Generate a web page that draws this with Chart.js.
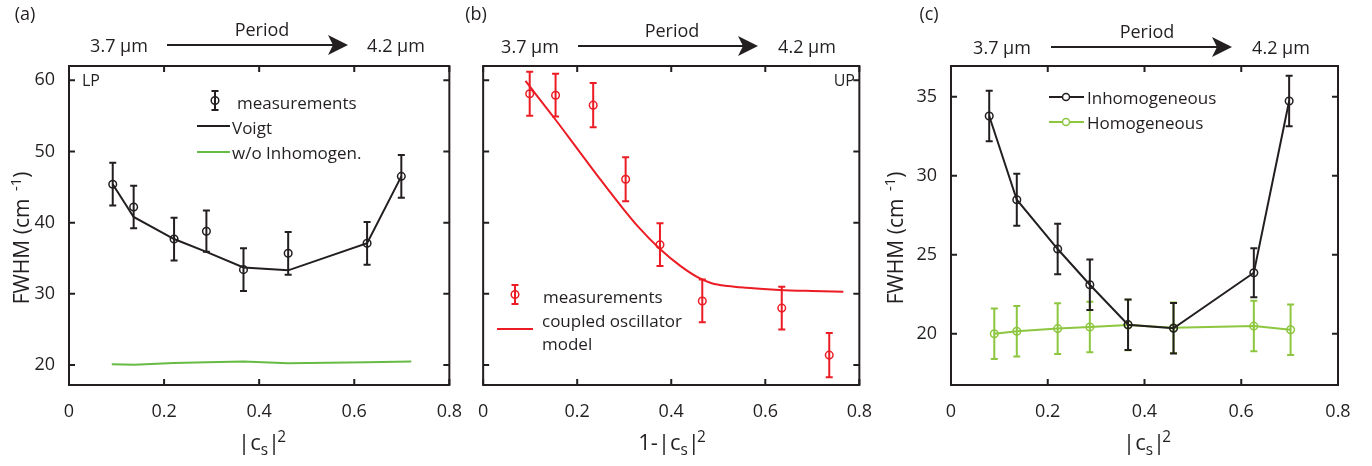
<!DOCTYPE html>
<html>
<head>
<meta charset="UTF-8">
<title>FWHM vs Hopfield coefficient</title>
<script src="https://cdn.jsdelivr.net/npm/chart.js"></script>
<style>
    body { margin: 0; background: #fff; }
    #fig { position: relative; width: 1372px; height: 466px; font-family: 'Open Sans', sans-serif; color: #231f20; overflow: hidden; }
    #fig canvas { position: absolute; top: 0; }
    .t { position: absolute; white-space: nowrap; line-height: 1; }
    .t sup, .t sub { font-size: 0.7em; line-height: 0; }
    .t.xt sup { margin-left: -3px; }
    svg { position: absolute; left: 0; top: 0; }
</style>
</head>
<body>
<div id="fig">
    <canvas id="chartA" width="470" height="466" style="left:0px"></canvas>
    <canvas id="chartB" width="410" height="466" style="left:470px"></canvas>
    <canvas id="chartC" width="492" height="466" style="left:880px"></canvas>
    <svg width="1372" height="466">
        <!-- period arrows -->
        <g stroke="#231f20" stroke-width="2">
            <line x1="167" y1="45" x2="334" y2="45" />
            <line x1="578" y1="46" x2="744" y2="46" />
            <line x1="1051" y1="47" x2="1218" y2="47" />
        </g>
        <g fill="#231f20">
            <polygon points="328,35 348,45 328,55 333,45" />
            <polygon points="738,36 758,46 738,56 743,46" />
            <polygon points="1212,37 1232,47 1212,57 1217,47" />
        </g>
        <!-- legend (a) -->
        <g stroke="#231f20" stroke-width="2" fill="none">
            <line x1="215" y1="91" x2="215" y2="110" />
            <line x1="211.5" y1="91" x2="218.5" y2="91" />
            <line x1="211.5" y1="110" x2="218.5" y2="110" />
            <circle cx="215" cy="100.5" r="3.8" stroke-width="1.5" />
            <line x1="197" y1="126" x2="230" y2="126" />
        </g>
        <line x1="197" y1="152" x2="230" y2="152" stroke="#66bb44" stroke-width="2" />
        <!-- legend (b) -->
        <g stroke="#ec1c24" stroke-width="2" fill="none">
            <line x1="515" y1="285" x2="515" y2="304" />
            <line x1="511.5" y1="285" x2="518.5" y2="285" />
            <line x1="511.5" y1="304" x2="518.5" y2="304" />
            <circle cx="515" cy="294.5" r="3.8" stroke-width="1.5" />
            <line x1="497" y1="329" x2="533" y2="329" />
        </g>
        <!-- legend (c) -->
        <g stroke="#231f20" stroke-width="2" fill="none">
            <line x1="1049" y1="97" x2="1084" y2="97" />
            <circle cx="1066" cy="97" r="3.5" stroke-width="1.5" fill="#fff" />
        </g>
        <g stroke="#8dc63f" stroke-width="2" fill="none">
            <line x1="1049" y1="122" x2="1084" y2="122" />
            <circle cx="1066" cy="122" r="3.5" stroke-width="1.5" fill="#fff" />
        </g>
    </svg>
</div>

<script>
    // axis ticks
    const xTicks = [0, 0.2, 0.4, 0.6, 0.8];
    const yTicksAB = [20, 30, 40, 50, 60];
    const yTicksC = [20, 25, 30, 35];

    // (a) LP, x = |c_s|^2
    const xA = [0.092, 0.136, 0.221, 0.289, 0.367, 0.461, 0.627, 0.699];
    const measA = [45.4, 42.2, 37.7, 38.8, 33.4, 35.7, 37.1, 46.5];
    const errA = [3.0, 3.0, 3.0, 2.9, 3.0, 3.0, 3.0, 3.0];
    const voigtA = [45.4, 40.8, 37.7, 35.9, 33.7, 33.3, 37.1, 46.5];
    const xHomA = [0.09, 0.137, 0.22, 0.29, 0.367, 0.461, 0.627, 0.72];
    const homA = [20.1, 20.05, 20.3, 20.4, 20.5, 20.25, 20.4, 20.5];

    // (b) UP, x = 1-|c_s|^2
    const xB = [0.099, 0.154, 0.234, 0.303, 0.376, 0.466, 0.635, 0.736];
    const measB = [58.1, 57.9, 56.5, 46.1, 36.9, 29.0, 28.0, 21.4];
    const errB = [3.1, 3.0, 3.1, 3.1, 3.0, 3.0, 3.0, 3.1];
    const xModelB = [0.09, 0.15, 0.2, 0.25, 0.29, 0.33, 0.376, 0.42, 0.46, 0.486, 0.52, 0.56, 0.63, 0.7, 0.766];
    const modelB = [59.9, 54.8, 50.4, 46.0, 42.6, 39.4, 36.3, 33.9, 32.2, 31.5, 31.1, 30.85, 30.55, 30.4, 30.3];

    // (c)
    const xInhomC = [0.079, 0.136, 0.2205, 0.287, 0.366, 0.46, 0.626, 0.699];
    const inhomC = [33.78, 28.48, 25.36, 23.1, 20.57, 20.34, 23.86, 34.73];
    const errInhomC = [1.6, 1.65, 1.6, 1.6, 1.6, 1.6, 1.55, 1.6];
    const xHomC = [0.0895, 0.136, 0.2205, 0.287, 0.366, 0.46, 0.626, 0.702];
    const homC = [20.0, 20.15, 20.32, 20.42, 20.55, 20.37, 20.48, 20.25];
    const errHomC = [1.6, 1.6, 1.6, 1.6, 1.6, 1.6, 1.6, 1.6];

    const ink = '#231f20';
    const red = '#ec1c24';
    const greenA = '#66bb44';
    const greenC = '#8dc63f';

    function pts(xs, ys) {
        return xs.map(function (x, i) { return { x: x, y: ys[i] }; });
    }

    // vertical error bars, drawn just before their dataset
    const errorBars = {
        id: 'errorBars',
        beforeDatasetDraw(chart, args) {
            const ds = chart.data.datasets[args.index];
            if (!ds.errs) return;
            const c = chart.ctx, sx = chart.scales.x, sy = chart.scales.y;
            c.save();
            c.strokeStyle = ds.borderColor;
            c.lineWidth = 2;
            c.beginPath();
            ds.data.forEach(function (p, i) {
                const px = sx.getPixelForValue(p.x);
                const t = sy.getPixelForValue(p.y + ds.errs[i]);
                const b = sy.getPixelForValue(p.y - ds.errs[i]);
                c.moveTo(px, t); c.lineTo(px, b);
                c.moveTo(px - 3.5, t); c.lineTo(px + 3.5, t);
                c.moveTo(px - 3.5, b); c.lineTo(px + 3.5, b);
            });
            c.stroke();
            c.restore();
        }
    };

    // matlab style box with inward ticks
    const frame = {
        id: 'frame',
        afterDraw(chart) {
            const c = chart.ctx, a = chart.chartArea, sx = chart.scales.x, sy = chart.scales.y;
            c.save();
            c.strokeStyle = ink;
            c.lineWidth = 2;
            c.strokeRect(a.left, a.top, a.right - a.left, a.bottom - a.top);
            c.beginPath();
            sx.ticks.forEach(function (t) {
                const p = sx.getPixelForValue(t.value);
                c.moveTo(p, a.bottom); c.lineTo(p, a.bottom - 6);
                c.moveTo(p, a.top); c.lineTo(p, a.top + 6);
            });
            sy.ticks.forEach(function (t) {
                const p = sy.getPixelForValue(t.value);
                c.moveTo(a.left, p); c.lineTo(a.left + 6, p);
                c.moveTo(a.right, p); c.lineTo(a.right - 6, p);
            });
            c.stroke();
            c.restore();
        }
    };

    function makeChart(id, datasets, yMin, yMax, yTicks, yWidth, padRight, showY) {
        return new Chart(document.getElementById(id), {
            type: 'scatter',
            data: { datasets: datasets },
            plugins: [errorBars, frame],
            options: {
                responsive: false,
                animation: false,
                devicePixelRatio: 1,
                layout: { padding: { left: 0, right: padRight, top: 66, bottom: 0 } },
                plugins: { legend: { display: false }, tooltip: { enabled: false } },
                scales: {
                    x: {
                        type: 'linear', min: 0, max: 0.8,
                        grid: { display: false }, border: { display: false },
                        afterBuildTicks: function (s) { s.ticks = xTicks.map(function (v) { return { value: v }; }); },
                        afterFit: function (s) { s.height = 81; },
                        ticks: {
                            color: ink, padding: 8,
                            font: { family: 'Open Sans', size: 18 },
                            callback: function (v) { return v === 0 ? '0' : v.toFixed(1); }
                        }
                    },
                    y: {
                        type: 'linear', min: yMin, max: yMax,
                        grid: { display: false }, border: { display: false },
                        afterBuildTicks: function (s) { s.ticks = yTicks.map(function (v) { return { value: v }; }); },
                        afterFit: function (s) { s.width = yWidth; },
                        ticks: {
                            display: showY, color: ink, padding: 6,
                            font: { family: 'Open Sans', size: 18 }
                        }
                    }
                }
            }
        });
    }

    const hollow = 'rgba(0,0,0,0)';

    makeChart('chartA', [
        { data: pts(xA, measA), errs: errA, showLine: false, borderColor: ink, pointBorderColor: ink, pointBackgroundColor: hollow, pointRadius: 3.8, pointBorderWidth: 1.5 },
        { data: pts(xA, voigtA), showLine: true, borderColor: ink, borderWidth: 2, pointRadius: 0 },
        { data: pts(xHomA, homA), showLine: true, borderColor: greenA, borderWidth: 2, pointRadius: 0 }
    ], 17.2, 62, yTicksAB, 69, 14, true);

    makeChart('chartB', [
        { data: pts(xB, measB), errs: errB, showLine: false, borderColor: red, pointBorderColor: red, pointBackgroundColor: hollow, pointRadius: 3.8, pointBorderWidth: 1.5 },
        { data: pts(xModelB, modelB), showLine: true, borderColor: red, borderWidth: 2, pointRadius: 0, cubicInterpolationMode: 'monotone' }
    ], 17.2, 62, yTicksAB, 8, 15, false);

    makeChart('chartC', [
        { data: pts(xInhomC, inhomC), errs: errInhomC, showLine: true, borderColor: ink, borderWidth: 2, pointBorderColor: ink, pointBackgroundColor: hollow, pointRadius: 3.8, pointBorderWidth: 1.5 },
        { data: pts(xHomC, homC), errs: errHomC, showLine: true, borderColor: greenC, borderWidth: 2, pointBorderColor: greenC, pointBackgroundColor: hollow, pointRadius: 3.8, pointBorderWidth: 1.5 }
    ], 16.75, 36.95, yTicksC, 71, 34, true);

    // texts
    const fig = document.getElementById('fig');
    function txt(html, x, y, size, anchor, rot, cls) {
        const d = document.createElement('div');
        d.className = 't' + (cls ? ' ' + cls : '');
        d.innerHTML = html;
        d.style.fontSize = size + 'px';
        d.style.left = x + 'px';
        d.style.top = y + 'px';
        let tr = anchor === 'l' ? 'translate(0,-50%)' : anchor === 'r' ? 'translate(-100%,-50%)' : 'translate(-50%,-50%)';
        if (rot) tr += ' rotate(-90deg)';
        d.style.transform = tr;
        fig.appendChild(d);
    }

    txt('(a)', 25, 13, 18);
    txt('(b)', 476, 13, 18);
    txt('(c)', 929, 13, 18);

    txt('Period', 262, 29, 18);
    txt('3.7 µm', 119, 45, 18);
    txt('4.2 µm', 396, 45, 18);
    txt('Period', 672, 30, 18);
    txt('3.7 µm', 530, 46, 18);
    txt('4.2 µm', 807, 46, 18);
    txt('Period', 1147, 31, 18);
    txt('3.7 µm', 1002, 47, 18);
    txt('4.2 µm', 1281, 47, 18);

    txt('LP', 82, 80, 16, 'l');
    txt('UP', 855, 80, 16, 'r');

    txt('FWHM (cm<sup>&nbsp;&nbsp;-1</sup>)', 21, 238, 21, 'c', true);
    txt('FWHM (cm<sup>&nbsp;&nbsp;-1</sup>)', 895, 238, 21, 'c', true);

    txt('|c<sub>s</sub>|<sup>2</sup>', 262, 441, 22, 'c', false, 'xt');
    txt('1-|c<sub>s</sub>|<sup>2</sup>', 672, 441, 22, 'c', false, 'xt');
    txt('|c<sub>s</sub>|<sup>2</sup>', 1147, 441, 22, 'c', false, 'xt');

    txt('measurements', 237, 102, 17, 'l');
    txt('Voigt', 232, 127, 17, 'l');
    txt('w/o Inhomogen.', 232, 152, 17, 'l');

    txt('measurements', 543, 296, 17, 'l');
    txt('coupled oscillator', 542, 320, 17, 'l');
    txt('model', 542, 343, 17, 'l');

    txt('Inhomogeneous', 1087, 97, 17, 'l');
    txt('Homogeneous', 1087, 122, 17, 'l');
</script>
</body>
</html>
